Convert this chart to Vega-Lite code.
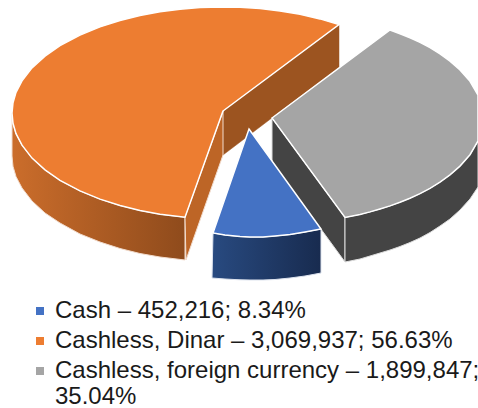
{"$schema":"https://vega.github.io/schema/vega-lite/v6.json","width":478,"height":408,"padding":0,"autosize":{"type":"none"},"background":"white","view":{"stroke":null},
"datasets":{
"slices":[{"slice":"Cash","amount":452216,"share":8.34,"entry":"Cash – 452,216; 8.34%"},{"slice":"Cashless, Dinar","amount":3069937,"share":56.63,"entry":"Cashless, Dinar – 3,069,937; 56.63%"},{"slice":"Cashless, foreign currency","amount":1899847,"share":35.04,"entry":"Cashless, foreign currency – 1,899,847; 35.04%"}],
"outline":[
{"slice":"Cashless, Dinar","face":"back","seq":1,"x":223,"y":111},{"slice":"Cashless, Dinar","face":"back","seq":2,"x":339,"y":24.5},{"slice":"Cashless, Dinar","face":"back","seq":3,"x":339,"y":67},{"slice":"Cashless, Dinar","face":"back","seq":4,"x":223,"y":155},
{"slice":"Cashless, Dinar","face":"cut","seq":1,"x":223,"y":111},{"slice":"Cashless, Dinar","face":"cut","seq":2,"x":223,"y":155},{"slice":"Cashless, Dinar","face":"cut","seq":3,"x":186,"y":260},{"slice":"Cashless, Dinar","face":"cut","seq":4,"x":185,"y":217},
{"slice":"Cashless, Dinar","face":"outer","seq":1,"x":12,"y":113},{"slice":"Cashless, Dinar","face":"outer","seq":2,"x":13,"y":123.3},{"slice":"Cashless, Dinar","face":"outer","seq":3,"x":16,"y":133.6},{"slice":"Cashless, Dinar","face":"outer","seq":4,"x":22,"y":145.2},{"slice":"Cashless, Dinar","face":"outer","seq":5,"x":32,"y":158.1},{"slice":"Cashless, Dinar","face":"outer","seq":6,"x":45,"y":169.9},{"slice":"Cashless, Dinar","face":"outer","seq":7,"x":60,"y":180.3},{"slice":"Cashless, Dinar","face":"outer","seq":8,"x":80,"y":190.9},{"slice":"Cashless, Dinar","face":"outer","seq":9,"x":100,"y":199.1},{"slice":"Cashless, Dinar","face":"outer","seq":10,"x":120,"y":205.5},{"slice":"Cashless, Dinar","face":"outer","seq":11,"x":140,"y":210.5},{"slice":"Cashless, Dinar","face":"outer","seq":12,"x":160,"y":214.2},{"slice":"Cashless, Dinar","face":"outer","seq":13,"x":185,"y":217.3},{"slice":"Cashless, Dinar","face":"outer","seq":14,"x":185,"y":260},{"slice":"Cashless, Dinar","face":"outer","seq":15,"x":160,"y":257},{"slice":"Cashless, Dinar","face":"outer","seq":16,"x":140,"y":253.5},{"slice":"Cashless, Dinar","face":"outer","seq":17,"x":120,"y":248.5},{"slice":"Cashless, Dinar","face":"outer","seq":18,"x":100,"y":242},{"slice":"Cashless, Dinar","face":"outer","seq":19,"x":80,"y":234},{"slice":"Cashless, Dinar","face":"outer","seq":20,"x":60,"y":223},{"slice":"Cashless, Dinar","face":"outer","seq":21,"x":45,"y":213},{"slice":"Cashless, Dinar","face":"outer","seq":22,"x":32,"y":201},{"slice":"Cashless, Dinar","face":"outer","seq":23,"x":22,"y":188},{"slice":"Cashless, Dinar","face":"outer","seq":24,"x":16,"y":176.6},{"slice":"Cashless, Dinar","face":"outer","seq":25,"x":13,"y":166.3},{"slice":"Cashless, Dinar","face":"outer","seq":26,"x":12,"y":156},
{"slice":"Cashless, Dinar","face":"top","seq":1,"x":223,"y":111},{"slice":"Cashless, Dinar","face":"top","seq":2,"x":339,"y":24.5},{"slice":"Cashless, Dinar","face":"top","seq":3,"x":320,"y":18.9},{"slice":"Cashless, Dinar","face":"top","seq":4,"x":300,"y":14.3},{"slice":"Cashless, Dinar","face":"top","seq":5,"x":280,"y":11},{"slice":"Cashless, Dinar","face":"top","seq":6,"x":260,"y":8.6},{"slice":"Cashless, Dinar","face":"top","seq":7,"x":240,"y":7.3},{"slice":"Cashless, Dinar","face":"top","seq":8,"x":223,"y":7},{"slice":"Cashless, Dinar","face":"top","seq":9,"x":200,"y":7.6},{"slice":"Cashless, Dinar","face":"top","seq":10,"x":180,"y":9.2},{"slice":"Cashless, Dinar","face":"top","seq":11,"x":160,"y":11.8},{"slice":"Cashless, Dinar","face":"top","seq":12,"x":140,"y":15.5},{"slice":"Cashless, Dinar","face":"top","seq":13,"x":120,"y":20.5},{"slice":"Cashless, Dinar","face":"top","seq":14,"x":100,"y":26.9},{"slice":"Cashless, Dinar","face":"top","seq":15,"x":80,"y":35.1},{"slice":"Cashless, Dinar","face":"top","seq":16,"x":60,"y":45.7},{"slice":"Cashless, Dinar","face":"top","seq":17,"x":45,"y":56.1},{"slice":"Cashless, Dinar","face":"top","seq":18,"x":32,"y":67.9},{"slice":"Cashless, Dinar","face":"top","seq":19,"x":22,"y":80.8},{"slice":"Cashless, Dinar","face":"top","seq":20,"x":16,"y":92.4},{"slice":"Cashless, Dinar","face":"top","seq":21,"x":13,"y":102.7},{"slice":"Cashless, Dinar","face":"top","seq":22,"x":12,"y":113},{"slice":"Cashless, Dinar","face":"top","seq":23,"x":13,"y":123.3},{"slice":"Cashless, Dinar","face":"top","seq":24,"x":16,"y":133.6},{"slice":"Cashless, Dinar","face":"top","seq":25,"x":22,"y":145.2},{"slice":"Cashless, Dinar","face":"top","seq":26,"x":32,"y":158.1},{"slice":"Cashless, Dinar","face":"top","seq":27,"x":45,"y":169.9},{"slice":"Cashless, Dinar","face":"top","seq":28,"x":60,"y":180.3},{"slice":"Cashless, Dinar","face":"top","seq":29,"x":80,"y":190.9},{"slice":"Cashless, Dinar","face":"top","seq":30,"x":100,"y":199.1},{"slice":"Cashless, Dinar","face":"top","seq":31,"x":120,"y":205.5},{"slice":"Cashless, Dinar","face":"top","seq":32,"x":140,"y":210.5},{"slice":"Cashless, Dinar","face":"top","seq":33,"x":160,"y":214.2},{"slice":"Cashless, Dinar","face":"top","seq":34,"x":185,"y":217.3},
{"slice":"Cashless, foreign currency","face":"cut","seq":1,"x":272,"y":118},{"slice":"Cashless, foreign currency","face":"cut","seq":2,"x":345,"y":217.5},{"slice":"Cashless, foreign currency","face":"cut","seq":3,"x":345,"y":262},{"slice":"Cashless, foreign currency","face":"cut","seq":4,"x":272,"y":162},
{"slice":"Cashless, foreign currency","face":"outer","seq":1,"x":345,"y":217.5},{"slice":"Cashless, foreign currency","face":"outer","seq":2,"x":360,"y":214.4},{"slice":"Cashless, foreign currency","face":"outer","seq":3,"x":370,"y":211.9},{"slice":"Cashless, foreign currency","face":"outer","seq":4,"x":380,"y":209},{"slice":"Cashless, foreign currency","face":"outer","seq":5,"x":390,"y":205.9},{"slice":"Cashless, foreign currency","face":"outer","seq":6,"x":400,"y":202.2},{"slice":"Cashless, foreign currency","face":"outer","seq":7,"x":410,"y":198.2},{"slice":"Cashless, foreign currency","face":"outer","seq":8,"x":420,"y":193.6},{"slice":"Cashless, foreign currency","face":"outer","seq":9,"x":430,"y":188.3},{"slice":"Cashless, foreign currency","face":"outer","seq":10,"x":440,"y":182.1},{"slice":"Cashless, foreign currency","face":"outer","seq":11,"x":450,"y":174.9},{"slice":"Cashless, foreign currency","face":"outer","seq":12,"x":460,"y":166.1},{"slice":"Cashless, foreign currency","face":"outer","seq":13,"x":470,"y":154.7},{"slice":"Cashless, foreign currency","face":"outer","seq":14,"x":478,"y":141},{"slice":"Cashless, foreign currency","face":"outer","seq":15,"x":478,"y":187},{"slice":"Cashless, foreign currency","face":"outer","seq":16,"x":470,"y":199},{"slice":"Cashless, foreign currency","face":"outer","seq":17,"x":460,"y":210},{"slice":"Cashless, foreign currency","face":"outer","seq":18,"x":450,"y":219},{"slice":"Cashless, foreign currency","face":"outer","seq":19,"x":440,"y":226},{"slice":"Cashless, foreign currency","face":"outer","seq":20,"x":430,"y":232.5},{"slice":"Cashless, foreign currency","face":"outer","seq":21,"x":420,"y":238},{"slice":"Cashless, foreign currency","face":"outer","seq":22,"x":410,"y":242.5},{"slice":"Cashless, foreign currency","face":"outer","seq":23,"x":400,"y":246.5},{"slice":"Cashless, foreign currency","face":"outer","seq":24,"x":390,"y":250},{"slice":"Cashless, foreign currency","face":"outer","seq":25,"x":380,"y":253},{"slice":"Cashless, foreign currency","face":"outer","seq":26,"x":370,"y":256},{"slice":"Cashless, foreign currency","face":"outer","seq":27,"x":360,"y":259},{"slice":"Cashless, foreign currency","face":"outer","seq":28,"x":345,"y":262},
{"slice":"Cashless, foreign currency","face":"top","seq":1,"x":272,"y":118},{"slice":"Cashless, foreign currency","face":"top","seq":2,"x":390,"y":30},{"slice":"Cashless, foreign currency","face":"top","seq":3,"x":400,"y":33.8},{"slice":"Cashless, foreign currency","face":"top","seq":4,"x":410,"y":37.8},{"slice":"Cashless, foreign currency","face":"top","seq":5,"x":420,"y":42.4},{"slice":"Cashless, foreign currency","face":"top","seq":6,"x":430,"y":47.7},{"slice":"Cashless, foreign currency","face":"top","seq":7,"x":440,"y":53.9},{"slice":"Cashless, foreign currency","face":"top","seq":8,"x":450,"y":61.1},{"slice":"Cashless, foreign currency","face":"top","seq":9,"x":460,"y":69.9},{"slice":"Cashless, foreign currency","face":"top","seq":10,"x":470,"y":81.3},{"slice":"Cashless, foreign currency","face":"top","seq":11,"x":478,"y":95},{"slice":"Cashless, foreign currency","face":"top","seq":12,"x":478,"y":141},{"slice":"Cashless, foreign currency","face":"top","seq":13,"x":470,"y":154.7},{"slice":"Cashless, foreign currency","face":"top","seq":14,"x":460,"y":166.1},{"slice":"Cashless, foreign currency","face":"top","seq":15,"x":450,"y":174.9},{"slice":"Cashless, foreign currency","face":"top","seq":16,"x":440,"y":182.1},{"slice":"Cashless, foreign currency","face":"top","seq":17,"x":430,"y":188.3},{"slice":"Cashless, foreign currency","face":"top","seq":18,"x":420,"y":193.6},{"slice":"Cashless, foreign currency","face":"top","seq":19,"x":410,"y":198.2},{"slice":"Cashless, foreign currency","face":"top","seq":20,"x":400,"y":202.2},{"slice":"Cashless, foreign currency","face":"top","seq":21,"x":390,"y":205.9},{"slice":"Cashless, foreign currency","face":"top","seq":22,"x":380,"y":209},{"slice":"Cashless, foreign currency","face":"top","seq":23,"x":370,"y":211.9},{"slice":"Cashless, foreign currency","face":"top","seq":24,"x":360,"y":214.4},{"slice":"Cashless, foreign currency","face":"top","seq":25,"x":345,"y":217.5},
{"slice":"Cash","face":"outer","seq":1,"x":213,"y":233},{"slice":"Cash","face":"outer","seq":2,"x":225,"y":235},{"slice":"Cash","face":"outer","seq":3,"x":240,"y":236.5},{"slice":"Cash","face":"outer","seq":4,"x":250,"y":237},{"slice":"Cash","face":"outer","seq":5,"x":263,"y":237},{"slice":"Cash","face":"outer","seq":6,"x":275,"y":236},{"slice":"Cash","face":"outer","seq":7,"x":290,"y":234.5},{"slice":"Cash","face":"outer","seq":8,"x":305,"y":232},{"slice":"Cash","face":"outer","seq":9,"x":321,"y":229},{"slice":"Cash","face":"outer","seq":10,"x":321,"y":273},{"slice":"Cash","face":"outer","seq":11,"x":305,"y":276},{"slice":"Cash","face":"outer","seq":12,"x":290,"y":278},{"slice":"Cash","face":"outer","seq":13,"x":275,"y":279.5},{"slice":"Cash","face":"outer","seq":14,"x":263,"y":280},{"slice":"Cash","face":"outer","seq":15,"x":250,"y":280},{"slice":"Cash","face":"outer","seq":16,"x":240,"y":279.8},{"slice":"Cash","face":"outer","seq":17,"x":225,"y":279},{"slice":"Cash","face":"outer","seq":18,"x":212,"y":278},
{"slice":"Cash","face":"top","seq":1,"x":249,"y":129},{"slice":"Cash","face":"top","seq":2,"x":321,"y":229},{"slice":"Cash","face":"top","seq":3,"x":305,"y":232},{"slice":"Cash","face":"top","seq":4,"x":290,"y":234.5},{"slice":"Cash","face":"top","seq":5,"x":275,"y":236},{"slice":"Cash","face":"top","seq":6,"x":263,"y":237},{"slice":"Cash","face":"top","seq":7,"x":250,"y":237},{"slice":"Cash","face":"top","seq":8,"x":240,"y":236.5},{"slice":"Cash","face":"top","seq":9,"x":225,"y":235},{"slice":"Cash","face":"top","seq":10,"x":213,"y":233}
]},
"data":{"name":"outline"},
"encoding":{
"x":{"field":"x","type":"quantitative","scale":{"domain":[0,478],"nice":false,"zero":false},"axis":null},
"y":{"field":"y","type":"quantitative","scale":{"domain":[408,0],"nice":false,"zero":false},"axis":null},
"order":{"field":"seq","type":"quantitative"}
},
"layer":[
{"transform":[{"filter":"datum.slice==='Cashless, Dinar' && datum.face==='back'"}],"mark":{"type":"line","interpolate":"linear-closed","fill":"#9c5420","stroke":"#9c5420","strokeWidth":0.5}},
{"transform":[{"filter":"datum.slice==='Cashless, Dinar' && datum.face==='outer'"}],"mark":{"type":"line","interpolate":"linear-closed","stroke":"#f2dccd","strokeWidth":1,"fill":{"gradient":"linear","x1":0,"y1":0,"x2":1,"y2":0,"stops":[{"offset":0,"color":"#cb6d2b"},{"offset":1,"color":"#8f4b1c"}]}}},
{"transform":[{"filter":"datum.slice==='Cashless, Dinar' && datum.face==='cut'"}],"mark":{"type":"line","interpolate":"linear-closed","fill":"#bd6526","stroke":"#f2dccd","strokeWidth":1}},
{"transform":[{"filter":"datum.slice==='Cashless, foreign currency' && datum.face!=='top'"}],"mark":{"type":"line","interpolate":"linear-closed","fill":"#444444","stroke":"#dddddd","strokeWidth":1},"encoding":{"detail":{"field":"face"}}},
{"transform":[{"filter":"datum.slice==='Cash' && datum.face==='outer'"}],"mark":{"type":"line","interpolate":"linear-closed","stroke":"#dde3ee","strokeWidth":1,"fill":{"gradient":"linear","x1":0,"y1":0,"x2":1,"y2":0,"stops":[{"offset":0,"color":"#284a80"},{"offset":1,"color":"#182b4f"}]}}},
{"transform":[{"filter":"datum.face==='top'"},{"lookup":"slice","from":{"data":{"name":"slices"},"key":"slice","fields":["entry","amount","share"]}}],
"mark":{"type":"line","interpolate":"linear-closed","stroke":"white","strokeWidth":1.5},
"encoding":{"fill":{"field":"entry","type":"nominal","title":null,
"scale":{"domain":["Cash – 452,216; 8.34%","Cashless, Dinar – 3,069,937; 56.63%","Cashless, foreign currency – 1,899,847; 35.04%"],"range":["#4472c4","#ed7d31","#a5a5a5"]},
"legend":{"orient":"none","legendX":28,"legendY":299,"symbolType":"square","symbolSize":64,"symbolStrokeWidth":0,"labelFont":"Liberation Sans","labelFontSize":24,"labelColor":"#1a1a1a","labelLimit":440,"labelOffset":3,"rowPadding":6,"encoding":{"labels":{"update":{"lineHeight":{"value":30}}}},"labelExpr":"datum.label==='Cashless, foreign currency – 1,899,847; 35.04%' ? ['Cashless, foreign currency – 1,899,847;','35.04%'] : datum.label"}}}}
]}
